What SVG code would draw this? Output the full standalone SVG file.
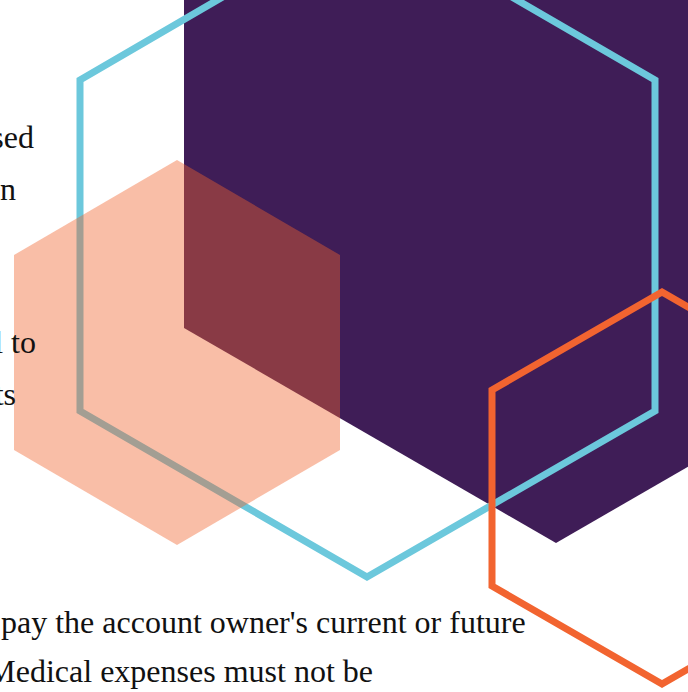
<svg xmlns="http://www.w3.org/2000/svg" width="688" height="692" viewBox="0 0 688 692">
<style>
.t{font-family:"Liberation Serif","Times New Roman",serif;font-size:32px;fill:#111}
.e{text-anchor:end}
.out{fill:none;stroke-width:7;stroke-linejoin:miter}
</style>
<rect width="688" height="692" fill="#fff"/>
<g id="hex-purple"><polygon points="556,-316 928,-101 928,328 556,543 184,328 184,-101" fill="#3F1D57"/></g>
<g id="hex-cyan"><polygon class="out" points="367,-87 655,80 655,411 367,577 80,411 80,80" stroke="#6CC8DC"/></g>
<g id="hex-salmon"><polygon points="177,160 340,255 340,450 177,545 14,450 14,255" fill="#F1642D" fill-opacity="0.42"/></g>
<g id="hex-orange"><polygon class="out" points="662,292 832,390 832,586 662,684 492,586 492,390" stroke="#F26430"/></g>
<g id="text">
<text class="t e" x="34" y="148">sed</text>
<text class="t e" x="16" y="200">n</text>
<text class="t e" x="36" y="353">l to</text>
<text class="t e" x="16" y="405">ts</text>
<text class="t" x="1" y="633">pay the account owner's current or future</text>
<text class="t e" x="373" y="682">Medical expenses must not be</text>
</g>
<g id="connectors"/>
</svg>
